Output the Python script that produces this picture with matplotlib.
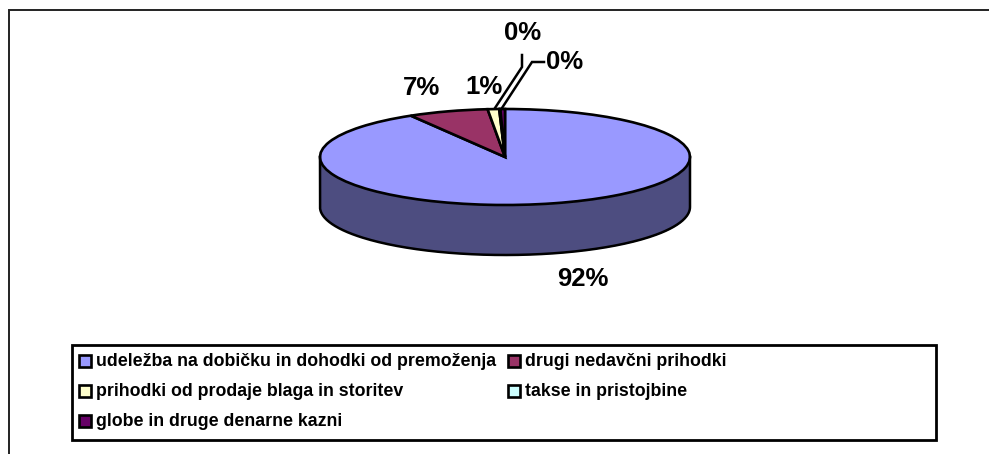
import numpy as np
import matplotlib
matplotlib.use("Agg")
import matplotlib.pyplot as plt
from matplotlib.patches import Rectangle

categories = ["udeležba na dobičku in dohodki od premoženja", "drugi nedavčni prihodki",
              "prihodki od prodaje blaga in storitev", "takse in pristojbine",
              "globe in druge denarne kazni"]
values = [91.5, 7.0, 1.0, 0.1, 0.4]
labels = ["92%", "7%", "1%", "0%", "0%"]
colors = ["#9999FF", "#993366", "#FFFFCC", "#CCFFFF", "#660066"]
wall_color = "#4D4D80"

W, H = 989, 454
plt.rcParams['font.family'] = ['Liberation Sans', 'DejaVu Sans']
fig = plt.figure(figsize=(W / 100, H / 100), dpi=100, facecolor="white")

bg = fig.add_axes([0, 0, 1, 1])
bg.set_xlim(0, W)
bg.set_ylim(H, 0)
bg.axis("off")

# chart frame
bg.plot([9, 9, W], [H, 10, 10], color="#222222", lw=1.4, solid_joinstyle="miter")

# pie: an elliptic top face over a wall
cx, cy, rx, ry, depth = 505, 157, 185, 48, 50
ax = fig.add_axes([(cx - rx) / W, 1 - (cy + ry) / H, 2 * rx / W, 2 * ry / H])
t = np.linspace(np.pi, 2 * np.pi, 200)
d = depth / ry
xs, ys = np.cos(t), np.sin(t)
ax.fill_between(xs, ys - d, ys, color=wall_color, lw=0, clip_on=False)
ax.plot(np.r_[-1, xs, 1], np.r_[0, ys - d, 0], color="black", lw=1.8, clip_on=False,
        solid_joinstyle="round")
wedges, _ = ax.pie(values, colors=colors, startangle=90, counterclock=False, radius=1,
                   wedgeprops=dict(edgecolor="black", linewidth=1.9))
for w in wedges:
    w.set_clip_on(False)
ax.set_aspect("auto")
ax.set_xlim(-1, 1)
ax.set_ylim(-1, 1)
ax.axis("off")

# data labels
lab_pos = [(582.5, 279), (422, 88), (484, 87), (523, 33), (565, 62)]
for s, (x, y) in zip(labels, lab_pos):
    bg.text(x, y, s, ha="center", va="center", fontsize=18.5, fontweight="bold", color="black")

# leader lines
bg.plot([495, 522, 522], [108, 67, 55], color="black", lw=1.8, zorder=3, solid_joinstyle="miter")
bg.plot([502, 532, 544], [108, 62, 62], color="black", lw=1.8, zorder=3, solid_joinstyle="miter")

# legend
bg.add_patch(Rectangle((72, 345), 864, 95, fc="white", ec="black", lw=2.0, zorder=2))
leg_pos = [(79, 361), (508, 361), (79, 391), (508, 391), (79, 421)]
for name, c, (x, y) in zip(categories, colors, leg_pos):
    bg.add_patch(Rectangle((x, y - 6), 12, 12, fc=c, ec="black", lw=1.9, zorder=3))
    bg.text(x + 17, y, name, ha="left", va="center", fontsize=12.8, fontweight="bold", color="black", zorder=3)

fig.savefig("out.png", dpi=100)
